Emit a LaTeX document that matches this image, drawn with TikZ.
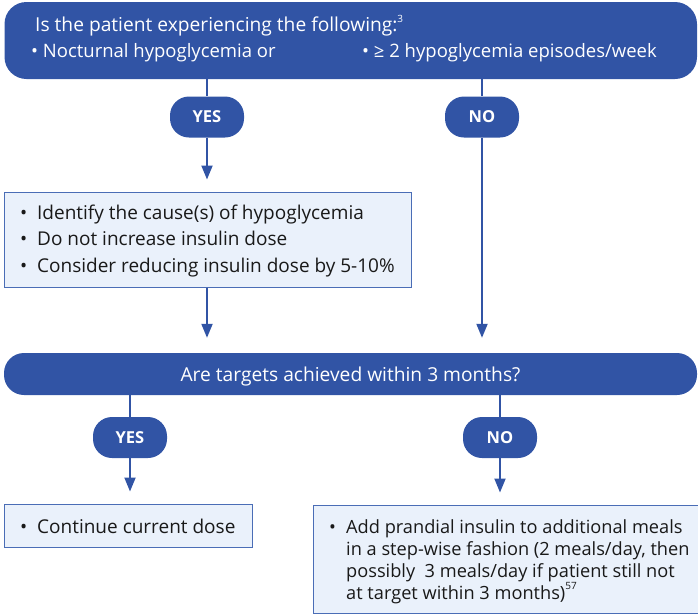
\documentclass[tikz,border=0pt]{standalone}
\usepackage{fontspec}
\setmainfont{Open Sans}
\usetikzlibrary{arrows.meta}
\definecolor{flowblue}{HTML}{3154A5}
\definecolor{boxfill}{HTML}{EAF1FB}
\definecolor{boxline}{HTML}{4A6DB6}
\newcommand{\refmark}[1]{\raisebox{0.5em}{\fontsize{10}{10}\selectfont #1}}

\begin{document}
\begin{tikzpicture}[x=1pt,y=-1pt,
		question/.style={fill=flowblue, rounded corners=22pt, inner sep=0pt},
		answer/.style={fill=flowblue, rounded corners=19pt, minimum width=74pt, minimum height=41pt, inner sep=0pt, text=white, font=\bfseries\fontsize{16.5}{20}\selectfont},
		action/.style={fill=boxfill, draw=boxline, line width=1pt, inner sep=0pt},
		qtext/.style={anchor=base west, inner sep=0pt, text=white, font=\fontsize{19.2}{22}\selectfont},
		atext/.style={anchor=base west, inner sep=0pt, text=black!90, font=\fontsize{19}{22}\selectfont},
		flow/.style={draw=flowblue, line width=2pt},
		arrow/.style={flow, -{Triangle[width=11pt,length=14pt]}, shorten >=12pt}]
		\useasboundingbox (0,0) rectangle (698,614);
		% first question
		\node[question, minimum width=692.5pt, minimum height=77pt] (q1) at (350.75,40.5) {};
		\node[qtext] (q1a) at (35,31.7) {Is the patient experiencing the following:\refmark{3}};
		\node[qtext, font=\fontsize{18.5}{22}\selectfont] (q1b) at (31,57) {\textbullet\ Nocturnal hypoglycemia or};
		\node[qtext, font=\fontsize{18.5}{22}\selectfont] (q1c) at (362,57) {\textbullet\ ≥ 2 hypoglycemia episodes/week};
		\node[answer] (yes1) at (207,117) {YES};
		\node[answer] (no1) at (482,117) {NO};
		% hypoglycemia actions
		\node[action, minimum width=407pt, minimum height=95pt] (act) at (207.5,239.5) {};
		\node[atext] (act1) at (20,219) {\makebox[17pt][l]{\textbullet}Identify the cause(s) of hypoglycemia};
		\node[atext] (act2) at (20,245.5) {\makebox[17pt][l]{\textbullet}Do not increase insulin dose};
		\node[atext] (act3) at (20,272) {\makebox[17pt][l]{\textbullet}Consider reducing insulin dose by 5-10\%};
		% second question
		\node[question, rounded corners=20pt, minimum width=693pt, minimum height=42pt] (q2) at (350.5,374) {};
		\node[qtext, anchor=base] (q2a) at (350.5,381) {Are targets achieved within 3 months?};
		\node[answer] (yes2) at (130,437.5) {YES};
		\node[answer] (no2) at (500,437.5) {NO};
		% outcomes
		\node[action, minimum width=248pt, minimum height=43pt] (keep) at (128,525.5) {};
		\node[atext] (keep1) at (20,533) {\makebox[17pt][l]{\textbullet}Continue current dose};
		\node[action, minimum width=392pt, minimum height=108pt] (add) at (509,559) {};
		\node[atext, font=\fontsize{18.2}{22}\selectfont] (add1) at (329,533) {\makebox[17pt][l]{\textbullet}Add prandial insulin to additional meals};
		\node[atext, font=\fontsize{18.2}{22}\selectfont] (add2) at (346,555) {in a step-wise fashion (2 meals/day, then};
		\node[atext, font=\fontsize{18.2}{22}\selectfont] (add3) at (346,577) {possibly\ \ 3 meals/day if patient still not};
		\node[atext, font=\fontsize{18.2}{22}\selectfont] (add4) at (346,599) {at target within 3 months)\refmark{57}};
		% connectors
		\draw[flow] (yes1 |- q1.south) -- (yes1.north);
		\draw[arrow] (yes1.south) -- (yes1 |- act.north);
		\draw[flow] (no1 |- q1.south) -- (no1.north);
		\draw[arrow, shorten >=15pt] (no1.south) -- (no1 |- q2.north);
		\draw[arrow, shorten >=15pt] (yes1 |- act.south) -- (yes1 |- q2.north);
		\draw[flow] (yes2 |- q2.south) -- (yes2.north);
		\draw[arrow] (yes2.south) -- (yes2 |- keep.north);
		\draw[flow] (no2 |- q2.south) -- (no2.north);
		\draw[arrow] (no2.south) -- (no2 |- add.north);
\end{tikzpicture}
\end{document}
